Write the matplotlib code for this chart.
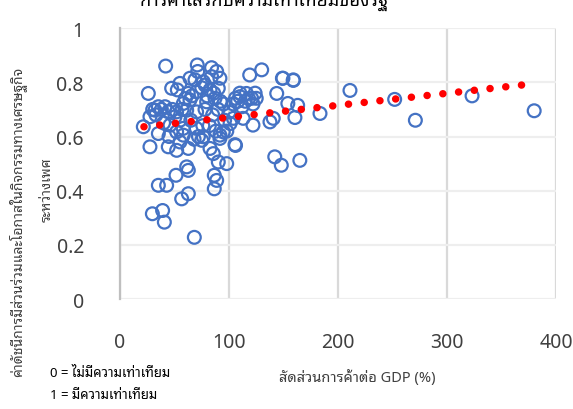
import numpy as np
import matplotlib
matplotlib.use("Agg")
import matplotlib.pyplot as plt

plt.rcParams['font.family'] = ['Noto Sans Thai Looped', 'Noto Sans', 'DejaVu Sans']

# trade share of GDP (%) and gender index
trade = [41.9, 70.9, 84, 71.3, 88.7, 84, 91.7, 64.2, 68.8, 76.4, 55, 47.4, 52.6, 26, 62.7,
         70.3, 82.6, 90.2, 87.2, 79.5, 64.2, 58.1, 35.2, 41.3, 32.1, 44.3, 27.5, 50.5, 70.3,
         61.2, 21.4, 35.2, 52, 58.1, 45.9, 27.5, 44.3, 52, 62.7, 55, 76.4, 75, 82.6, 85.6,
         90.2, 97.9, 91.7, 94.8, 61.2, 62.7, 51.4, 42.8, 35.2, 86.5, 88.7, 86.5, 56.6, 62.7,
         29.7, 39.1, 40.7, 68.2, 105.5, 106, 110, 116, 120.8, 125, 119, 130, 113, 122, 104,
         101, 91.7, 143.8, 149, 159, 154, 137.6, 140.6, 142, 148, 165, 52,
         75, 80, 78, 86, 92, 95, 66, 60, 57, 48, 38, 30, 33, 40, 55, 65, 70, 76, 82, 88, 98,
         100, 104, 108, 112, 115, 118, 122, 110, 124, 72, 68, 58, 45, 96, 78, 85, 90,
         211, 252, 271, 323, 380, 183.5, 160.5, 163, 159, 149.5, 106]
index = [0.860, 0.864, 0.854, 0.840, 0.840, 0.821, 0.815, 0.815, 0.809, 0.802, 0.796, 0.778,
         0.772, 0.759, 0.759, 0.765, 0.772, 0.778, 0.741, 0.728, 0.735, 0.722, 0.710, 0.710,
         0.697, 0.691, 0.673, 0.673, 0.691, 0.697, 0.636, 0.611, 0.617, 0.605, 0.642, 0.562,
         0.562, 0.549, 0.556, 0.580, 0.599, 0.586, 0.556, 0.537, 0.506, 0.500, 0.605, 0.617,
         0.488, 0.475, 0.457, 0.420, 0.420, 0.457, 0.438, 0.407, 0.370, 0.389, 0.315, 0.327,
         0.284, 0.228, 0.570, 0.741, 0.747, 0.759, 0.741, 0.741, 0.827, 0.846, 0.667, 0.642,
         0.667, 0.648, 0.593, 0.759, 0.815, 0.809, 0.722, 0.654, 0.667, 0.525, 0.494, 0.512,
         0.691,
         0.78, 0.75, 0.79, 0.76, 0.73, 0.72, 0.75, 0.74, 0.70, 0.70, 0.70, 0.70, 0.68, 0.65,
         0.66, 0.66, 0.63, 0.64, 0.64, 0.62, 0.62, 0.69, 0.72, 0.73, 0.71, 0.73, 0.74, 0.72,
         0.76, 0.76, 0.60, 0.59, 0.63, 0.60, 0.66, 0.70, 0.68, 0.70,
         0.77, 0.737, 0.66, 0.75, 0.695, 0.685, 0.67, 0.715, 0.807, 0.815, 0.567]

# linear trend line end points
trend_x = [22, 380]
trend_y = [0.636, 0.795]

fig = plt.figure(figsize=(5.73, 4.10), dpi=100)
ax = fig.add_axes([0.2094, 0.268, 0.7609, 0.661])

ax.scatter(trade, index, s=85, facecolors='none', edgecolors='#4472C4', linewidths=1.6, zorder=3)
ax.plot(trend_x, trend_y, color='#FF0000', linewidth=5.4, linestyle=(0, (0.01, 2.1)),
        dash_capstyle='round', zorder=4)

ax.set_xlim(0, 400)
ax.set_ylim(0, 1)
ax.set_xticks([0, 100, 200, 300, 400])
ax.set_yticks([0, 0.2, 0.4, 0.6, 0.8, 1])
ax.set_yticklabels(['0', '0.2', '0.4', '0.6', '0.8', '1'])
ax.tick_params(axis='both', length=0, labelsize=14, labelcolor='#404040')
ax.tick_params(axis='x', pad=24)
ax.tick_params(axis='y', pad=26)

ax.grid(axis='x', color='#D9D9D9', linewidth=1.6)
ax.grid(axis='y', color='#EEEEEE', linewidth=1.6)
ax.set_axisbelow(True)
for side in ['top', 'right', 'bottom']:
    ax.spines[side].set_visible(False)
ax.spines['left'].set_color('#BFBFBF')
ax.spines['left'].set_linewidth(1.6)

fig.text(0.623, 0.078, 'สัดส่วนการค้าต่อ GDP (%)', ha='center', va='center',
         fontsize=10.5, color='#404040')
fig.text(0.03, 0.458, 'ค่าดัชนีการมีส่วนร่วมและโอกาสในกิจกรรมทางเศรษฐกิจ', rotation=90,
         ha='center', va='center', fontsize=10, color='#404040')
fig.text(0.082, 0.537, 'ระหว่างเพศ', rotation=90, ha='center', va='center',
         fontsize=10, color='#404040')

fig.text(0.087, 0.09, '0 = ไม่มีความเท่าเทียม', ha='left', va='center', fontsize=9.5,
         fontweight='bold', color='black')
fig.text(0.087, 0.036, '1 = มีความเท่าเทียม', ha='left', va='center', fontsize=9.5,
         fontweight='bold', color='black')

# title is cut off at the top edge in the reference
fig.text(0.46, 0.986, 'การค้าเสรีกับความเท่าเทียมของรัฐ', ha='center', va='baseline',
         fontsize=13, fontweight='bold', color='black')

fig.savefig('out.png', dpi=100)
